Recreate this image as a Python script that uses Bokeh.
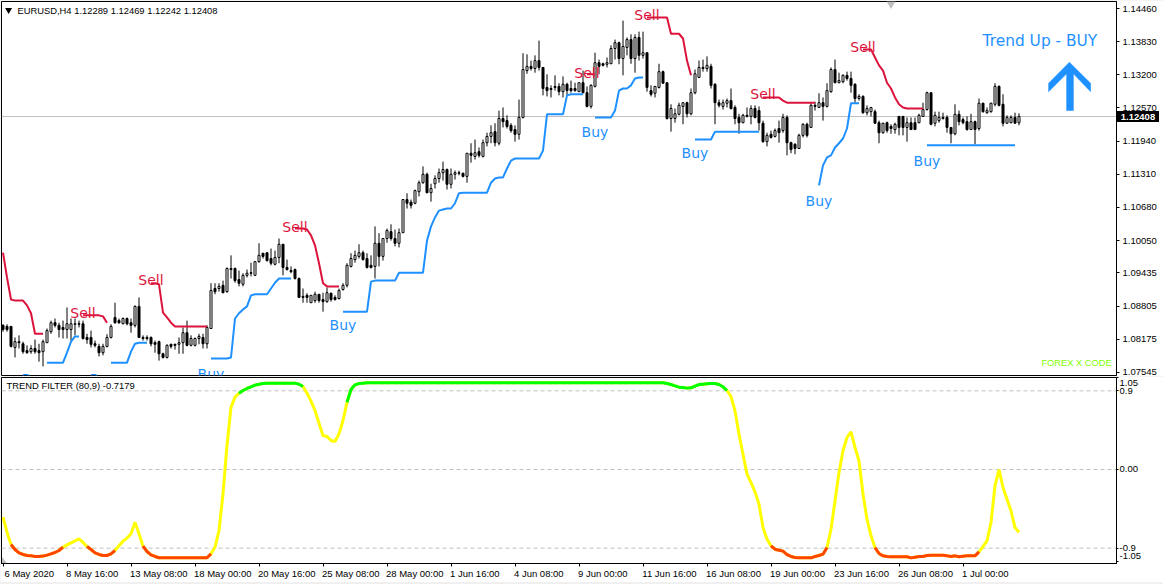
from bokeh.plotting import figure
from bokeh.layouts import column
from bokeh.models import Range1d, FixedTicker, Span, Label, ColumnDataSource, Div
from bokeh.core.properties import value
from bokeh.embed import file_html
from bokeh.resources import INLINE

high = [
1.0846,1.0846,1.0842,1.0821,1.0825,1.0813,1.0806,1.0806,1.0817,1.0809,
1.0817,1.0838,1.0853,1.0857,1.0849,1.0853,1.0878,1.0857,1.0857,1.0853,
1.0853,1.0828,1.0834,1.0815,1.0809,1.0809,1.0827,1.0846,1.0887,1.0857,
1.0859,1.0859,1.0857,1.0882,1.0897,1.0825,1.0825,1.0823,1.0815,1.0815,
1.0792,1.0808,1.0809,1.0809,1.0821,1.0840,1.0853,1.0825,1.0821,1.0828,
1.0828,1.0844,1.0924,1.0924,1.0924,1.0929,1.0954,1.0977,1.0954,1.0948,
1.0943,1.0950,1.0963,1.0965,1.1000,1.0981,1.0982,1.0990,1.0986,1.1009,
1.0998,1.0969,1.0956,1.0952,1.0935,1.0914,1.0905,1.0901,1.0908,1.0903,
1.0906,1.0916,1.0906,1.0901,1.0914,1.0924,1.0962,1.0981,1.0986,1.0998,
1.0986,1.0981,1.0977,1.1032,1.1019,1.1009,1.1028,1.1036,1.1026,1.1028,
1.1083,1.1095,1.1083,1.1102,1.1119,1.1146,1.1134,1.1113,1.1129,1.1142,
1.1155,1.1142,1.1142,1.1138,1.1138,1.1134,1.1171,1.1190,1.1197,1.1182,
1.1197,1.1210,1.1224,1.1228,1.1252,1.1258,1.1243,1.1228,1.1224,1.1273,
1.1361,1.1359,1.1347,1.1357,1.1385,1.1334,1.1321,1.1300,1.1319,1.1304,
1.1317,1.1305,1.1309,1.1305,1.1305,1.1328,1.1298,1.1302,1.1362,1.1349,
1.1343,1.1353,1.1376,1.1387,1.1383,1.1423,1.1391,1.1397,1.1397,1.1402,
1.1402,1.1362,1.1300,1.1298,1.1341,1.1328,1.1305,1.1264,1.1256,1.1267,
1.1267,1.1269,1.1294,1.1330,1.1347,1.1349,1.1355,1.1341,1.1304,1.1273,
1.1273,1.1275,1.1294,1.1262,1.1246,1.1246,1.1258,1.1262,1.1262,1.1260,
1.1233,1.1210,1.1214,1.1218,1.1233,1.1246,1.1243,1.1193,1.1190,1.1208,
1.1228,1.1229,1.1266,1.1269,1.1285,1.1277,1.1304,1.1334,1.1349,1.1324,
1.1321,1.1326,1.1326,1.1304,1.1283,1.1281,1.1262,1.1258,1.1254,1.1233,
1.1229,1.1231,1.1226,1.1229,1.1241,1.1241,1.1239,1.1239,1.1239,1.1246,
1.1267,1.1288,1.1286,1.1250,1.1250,1.1248,1.1243,1.1220,1.1264,1.1252,
1.1239,1.1241,1.1246,1.1233,1.1275,1.1267,1.1258,1.1267,1.1304,1.1300,
1.1283,1.1243,1.1243,1.1248,1.12469]

low = [
1.0832,1.0832,1.0802,1.0783,1.0800,1.0790,1.0790,1.0790,1.0790,1.0775,
1.0766,1.0811,1.0828,1.0840,1.0821,1.0819,1.0819,1.0815,1.0825,1.0840,
1.0817,1.0809,1.0802,1.0802,1.0785,1.0787,1.0802,1.0819,1.0847,1.0847,
1.0846,1.0844,1.0830,1.0840,1.0821,1.0815,1.0815,1.0804,1.0792,1.0777,
1.0781,1.0781,1.0800,1.0798,1.0790,1.0790,1.0804,1.0804,1.0804,1.0808,
1.0800,1.0800,1.0838,1.0903,1.0908,1.0905,1.0906,1.0933,1.0925,1.0918,
1.0918,1.0935,1.0937,1.0939,1.0963,1.0971,1.0965,1.0958,1.0958,1.0962,
1.0939,1.0948,1.0943,1.0931,1.0897,1.0887,1.0887,1.0887,1.0887,1.0887,
1.0870,1.0887,1.0889,1.0891,1.0893,1.0910,1.0916,1.0954,1.0963,1.0971,
1.0967,1.0952,1.0952,1.0933,1.0956,1.0967,1.1001,1.1005,1.0994,1.0992,
1.1020,1.1066,1.1066,1.1074,1.1089,1.1113,1.1095,1.1079,1.1104,1.1115,
1.1119,1.1102,1.1104,1.1121,1.1129,1.1125,1.1115,1.1153,1.1159,1.1163,
1.1163,1.1184,1.1190,1.1184,1.1186,1.1220,1.1218,1.1210,1.1193,1.1197,
1.1237,1.1322,1.1328,1.1324,1.1328,1.1281,1.1279,1.1277,1.1290,1.1281,
1.1277,1.1281,1.1286,1.1288,1.1288,1.1285,1.1258,1.1256,1.1296,1.1321,
1.1336,1.1334,1.1341,1.1349,1.1340,1.1319,1.1357,1.1341,1.1324,1.1347,
1.1351,1.1288,1.1279,1.1277,1.1294,1.1304,1.1235,1.1212,1.1229,1.1243,
1.1226,1.1239,1.1243,1.1283,1.1315,1.1326,1.1326,1.1294,1.1226,1.1258,
1.1254,1.1258,1.1254,1.1226,1.1208,1.1228,1.1239,1.1226,1.1237,1.1214,
1.1191,1.1184,1.1199,1.1201,1.1191,1.1210,1.1167,1.1171,1.1169,1.1180,
1.1201,1.1201,1.1220,1.1252,1.1258,1.1233,1.1258,1.1286,1.1304,1.1304,
1.1304,1.1309,1.1286,1.1267,1.1271,1.1246,1.1243,1.1241,1.1228,1.1190,
1.1208,1.1210,1.1208,1.1208,1.1205,1.1205,1.1193,1.1216,1.1216,1.1228,
1.1241,1.1252,1.1224,1.1222,1.1229,1.1235,1.1210,1.1190,1.1205,1.1224,
1.1226,1.1214,1.1216,1.1188,1.1214,1.1248,1.1246,1.1248,1.1260,1.1260,
1.1222,1.1228,1.1228,1.1228,1.12242]

open_ = [
1.0844,1.0842,1.0842,1.0802,1.0813,1.0809,1.0796,1.0794,1.0800,1.0796,
1.0794,1.0811,1.0832,1.0849,1.0844,1.0840,1.0836,1.0836,1.0846,1.0847,
1.0847,1.0821,1.0821,1.0809,1.0804,1.0792,1.0804,1.0821,1.0859,1.0853,
1.0847,1.0857,1.0849,1.0844,1.0880,1.0821,1.0819,1.0821,1.0811,1.0813,
1.0790,1.0783,1.0808,1.0808,1.0808,1.0811,1.0830,1.0806,1.0806,1.0819,
1.0821,1.0809,1.0838,1.0914,1.0914,1.0920,1.0908,1.0950,1.0952,1.0931,
1.0922,1.0939,1.0944,1.0939,1.0965,1.0981,1.0982,1.0971,1.0960,1.0973,
1.0998,1.0954,1.0948,1.0950,1.0933,1.0899,1.0901,1.0887,1.0891,1.0903,
1.0893,1.0889,1.0905,1.0897,1.0895,1.0912,1.0920,1.0956,1.0969,1.0975,
1.0982,1.0971,1.0958,1.0956,1.1000,1.0975,1.1009,1.1022,1.1009,1.1000,
1.1020,1.1083,1.1078,1.1076,1.1098,1.1115,1.1131,1.1096,1.1113,1.1123,
1.1134,1.1140,1.1112,1.1131,1.1134,1.1133,1.1127,1.1171,1.1165,1.1174,
1.1165,1.1191,1.1203,1.1212,1.1190,1.1237,1.1233,1.1224,1.1216,1.1207,
1.1239,1.1328,1.1336,1.1332,1.1347,1.1334,1.1296,1.1294,1.1298,1.1298,
1.1288,1.1302,1.1294,1.1294,1.1288,1.1305,1.1286,1.1260,1.1298,1.1343,
1.1341,1.1340,1.1341,1.1370,1.1381,1.1351,1.1372,1.1387,1.1351,1.1391,
1.1357,1.1362,1.1290,1.1285,1.1296,1.1326,1.1305,1.1237,1.1237,1.1245,
1.1260,1.1267,1.1246,1.1286,1.1315,1.1334,1.1332,1.1336,1.1302,1.1267,
1.1260,1.1266,1.1271,1.1258,1.1239,1.1229,1.1243,1.1241,1.1256,1.1252,
1.1228,1.1193,1.1207,1.1203,1.1218,1.1214,1.1239,1.1191,1.1188,1.1180,
1.1205,1.1226,1.1220,1.1262,1.1258,1.1267,1.1260,1.1288,1.1330,1.1305,
1.1307,1.1319,1.1313,1.1302,1.1275,1.1279,1.1248,1.1250,1.1250,1.1229,
1.1210,1.1229,1.1222,1.1216,1.1241,1.1241,1.1220,1.1229,1.1229,1.1229,
1.1241,1.1254,1.1286,1.1228,1.1233,1.1239,1.1239,1.1220,1.1208,1.1245,
1.1235,1.1231,1.1216,1.1231,1.1218,1.1266,1.1248,1.1250,1.1264,1.1298,
1.1264,1.1228,1.1229,1.1239,1.12289]

close = [
1.0836,1.0836,1.0804,1.0813,1.0811,1.0794,1.0792,1.0800,1.0794,1.0792,
1.0813,1.0834,1.0849,1.0844,1.0836,1.0836,1.0847,1.0847,1.0847,1.0846,
1.0819,1.0817,1.0808,1.0806,1.0792,1.0804,1.0821,1.0842,1.0849,1.0849,
1.0857,1.0847,1.0844,1.0880,1.0821,1.0819,1.0821,1.0809,1.0808,1.0790,
1.0783,1.0806,1.0804,1.0806,1.0811,1.0830,1.0806,1.0819,1.0819,1.0823,
1.0809,1.0840,1.0910,1.0908,1.0918,1.0906,1.0952,1.0952,1.0929,1.0924,
1.0939,1.0943,1.0943,1.0965,1.0977,1.0975,1.0967,1.0962,1.0973,1.0998,
1.0954,1.0950,1.0946,1.0933,1.0897,1.0897,1.0897,1.0901,1.0903,1.0891,
1.0889,1.0906,1.0893,1.0893,1.0910,1.0920,1.0958,1.0971,1.0977,1.0982,
1.0969,1.0954,1.0954,1.1000,1.0975,1.1009,1.1024,1.1009,1.1000,1.1020,
1.1083,1.1076,1.1072,1.1100,1.1115,1.1131,1.1096,1.1104,1.1123,1.1134,
1.1140,1.1112,1.1131,1.1134,1.1133,1.1127,1.1171,1.1167,1.1172,1.1167,
1.1191,1.1203,1.1210,1.1191,1.1237,1.1231,1.1222,1.1214,1.1207,1.1239,
1.1330,1.1336,1.1332,1.1347,1.1334,1.1294,1.1290,1.1292,1.1296,1.1288,
1.1302,1.1290,1.1290,1.1290,1.1305,1.1286,1.1260,1.1300,1.1343,1.1336,
1.1338,1.1343,1.1370,1.1381,1.1351,1.1374,1.1387,1.1351,1.1391,1.1357,
1.1362,1.1296,1.1283,1.1298,1.1326,1.1304,1.1237,1.1256,1.1246,1.1262,
1.1267,1.1246,1.1286,1.1322,1.1334,1.1332,1.1338,1.1300,1.1267,1.1262,
1.1267,1.1271,1.1256,1.1237,1.1229,1.1243,1.1241,1.1256,1.1239,1.1229,
1.1193,1.1205,1.1201,1.1214,1.1210,1.1239,1.1191,1.1178,1.1180,1.1205,
1.1226,1.1205,1.1262,1.1260,1.1267,1.1260,1.1290,1.1330,1.1305,1.1309,
1.1319,1.1313,1.1300,1.1275,1.1279,1.1248,1.1256,1.1258,1.1228,1.1210,
1.1228,1.1214,1.1218,1.1226,1.1220,1.1220,1.1229,1.1216,1.1216,1.1243,
1.1254,1.1286,1.1226,1.1243,1.1239,1.1237,1.1220,1.1208,1.1245,1.1231,
1.1229,1.1216,1.1231,1.1216,1.1266,1.1250,1.1252,1.1266,1.1298,1.1262,
1.1228,1.1239,1.1239,1.1228,1.12408]

trend_filter = (
[-0.545,-0.717,-0.858,-0.915,-0.953,-0.972,-0.984,-0.988,-0.995,-0.995,
 -0.991,-0.98,-0.965,-0.95,-0.927,-0.889,-0.862,-0.839,-0.816,-0.793,
 -0.835,-0.881,-0.915,-0.953,-0.972,-0.984,-0.984,-0.965,-0.927,-0.873,
 -0.82,-0.785,-0.736,-0.602,-0.736,-0.877,-0.938,-0.976,-0.995]
+ [-1.01]*13 +
[-0.965,-0.889,-0.698,-0.278,0.275,0.713,0.828,0.873,
 0.904,0.927,0.946,0.965,0.976,0.984,0.988]
+ [0.988]*7 +
[0.976,0.95,0.873,0.782,0.675,0.53,0.389,0.378,0.332,0.32,0.408,0.56,0.77,0.915,
 0.969,0.984,0.988]
+ [0.992]*75 +
[0.984,0.972,0.957,0.942,0.938,0.931,0.934,0.953,0.972,0.976,0.98,0.984,0.984,
 0.972,0.946,0.904,0.835,0.671,0.404,0.175,-0.053,-0.149,-0.256,-0.397,-0.664,
 -0.797,-0.873,-0.912,-0.923,-0.934,-0.973,-0.995,-1.007,-1.011]
+ [-1.011]*3 +
[-0.995,-0.984,-0.969,-0.893,-0.683,-0.359,-0.034,0.214,0.366,0.431,0.252,0.099,
 -0.282,-0.568,-0.759,-0.893,-0.961,-0.988,-0.995]
+ [-0.999]*5 +
[-1.011,-1.003,-0.995,-0.995,-0.984]
+ [-0.98]*4 +
[-0.988,-0.995,-0.988,-0.999,-0.992,-0.988,-0.988,-0.988,-0.942,-0.881,-0.816,
 -0.606,-0.187,0.0,-0.206,-0.34,-0.473,-0.664,-0.7179])

green_runs = [(59, 75), (86, 181)]
orange_runs = [(2, 15), (21, 28), (35, 52), (192, 206), (218, 244)]

sell_starts = [0, 20, 37, 73, 146, 161, 190, 215]
sell_lines = [
[1.0982,1.0935,1.0893,1.0891,1.0891,1.0891,1.0882,1.0867,1.0828,1.0828,1.0828],
[1.0863,1.0863,1.0863,1.0863,1.0863,1.0861,1.0849],
[1.0924,1.0924,1.0922,1.0868,1.0859,1.0849]+[1.0842]*9,
[1.1028,1.1028,1.1028,1.1026,1.1015,1.0996,1.0962,1.0924,1.0918,1.0918,1.0918,1.0918],
[1.1321,1.1321,1.1321],
[1.1429]*6+[1.1398,1.1398,1.1398,1.1389,1.1347,1.1319],
[1.1277]*5+[1.1271]+[1.1267]*8,
[1.1368]*3+[1.1353,1.1338,1.1328,1.1305,1.1294,1.1277,1.1264,1.1258]+[1.1256]*5,
]
buy_starts = [11, 27, 52, 85, 148, 173, 204, 231]
buy_lines = [
[1.0773]*5+[1.0792,1.0813,1.0823,1.0823],
[1.0773]*5+[1.0794,1.0809,1.0811,1.0811,1.0811],
[1.0781]*5+[1.0783,1.0857,1.0867,1.0874,1.0880,1.0901,1.0903,1.0903,1.0903,1.0903,1.0914,1.0925]+[1.0933]*4,
[1.0870]*7+[1.0927]+[1.0929]*6+[1.0944]*7+[1.1005,1.1032,1.1049,1.1062,1.1064,1.1066,1.1066,1.1076,1.1095]
 +[1.1096]*7+[1.1115,1.1123,1.1125,1.1125,1.1142,1.1157]+[1.1161]*7+[1.1176]+[1.1245]*5+[1.1281]+[1.1283]*4,
[1.1239]*5+[1.1252,1.1290,1.1294,1.1294,1.1300,1.1313,1.1315,1.1315],
[1.1197]*5+[1.1212]*12,
[1.1110,1.1148,1.1163,1.1167,1.1182,1.1190,1.1199,1.1218,1.1266,1.1266,1.1266],
[1.1186]*23,
]

sell_label_bar = [20, 37, 73, 146, 161, 190, 215]
sell_label_price = [1.0867, 1.0931, 1.1030, 1.1324, 1.1433, 1.1283, 1.1372]
buy_label_bar = [8, 25, 52, 85, 148, 173, 204, 231]
buy_label_price = [1.0743, 1.0743, 1.0751, 1.0844, 1.1212, 1.1171, 1.1081, 1.1157]

price_ticks = [1.07545, 1.08175, 1.08805, 1.09435, 1.10050, 1.10680,
               1.11310, 1.11940, 1.12570, 1.13200, 1.13830, 1.14460]
date_labels = ["6 May 2020", "8 May 16:00", "13 May 08:00", "18 May 00:00", "20 May 16:00",
               "25 May 08:00", "28 May 00:00", "1 Jun 16:00", "4 Jun 08:00", "9 Jun 00:00",
               "11 Jun 16:00", "16 Jun 08:00", "19 Jun 00:00", "23 Jun 16:00", "26 Jun 08:00",
               "1 Jul 00:00"]
date_ticks = [16 * k for k in range(len(date_labels))]
filter_levels = [0.9, 0.0, -0.9]
filter_ticks = [1.05, 0.9, 0.0, -0.9, -1.05]
# where the pane's labels sit: the two outer ones are pushed inwards, as MetaTrader does
filter_label_pos = {0.984: "1.05", 0.9: "0.9", 0.0: "0.00", -0.9: "-0.9", -0.992: "-1.05"}
last_price = 1.12408

arrow_bar = [266.6, 271.9, 271.9, 267.6, 267.6, 265.9, 265.9, 261.4, 261.4]
arrow_price = [1.1344, 1.1304, 1.1288, 1.1322, 1.1252, 1.1252, 1.1322, 1.1288, 1.1304]

SELL = "#DC143C"
BUY = "#1E90FF"
SMALL = "Liberation Sans"
CHAR_EM = {" ": .278, ":": .278, "M": .833, "J": .5, "a": .556, "y": .5, "u": .556, "n": .556, "l": .222}

def label_center(tick, label):
    width = sum(CHAR_EM.get(ch, .556) for ch in label) * 9.5
    lead = 1.5 if tick == 0 else -1
    return tick + (width / 2 + lead) / 4

X0, X1 = -0.375, 278.375
Y0, Y1 = 1.07487, 1.14593
F0, F1 = -1.0755, 1.0526
p = figure(width=1163, height=376, x_range=Range1d(X0, X1), y_range=Range1d(Y0, Y1),
           y_axis_location="right", x_axis_location=None, tools="", toolbar_location=None,
           output_backend="svg", min_border_left=1, min_border_right=47, min_border_top=1, min_border_bottom=1)
p.grid.visible = False
p.outline_line_color = "black"
ax = p.yaxis[0]
ax.ticker = FixedTicker(ticks=price_ticks)
ax.major_label_overrides = {t: f"{t:.5f}" for t in price_ticks}
ax.major_tick_in = 0
ax.major_tick_out = 3
ax.minor_tick_line_color = None
ax.major_label_standoff = 3
ax.major_label_text_font = SMALL
ax.major_label_text_font_size = "9.5px"
ax.major_label_text_color = "black"
ax.axis_line_color = "black"

p.add_layout(Span(location=last_price, dimension="width", line_color="#c0c0c0", line_width=1, level="underlay"))

bars = list(range(255))
body_top = [max(o, c) for o, c in zip(open_, close)]
body_bot = [min(o, c) for o, c in zip(open_, close)]
fill = ["white" if c >= o else "black" for o, c in zip(open_, close)]
src = ColumnDataSource(dict(x=bars, h=high, l=low, t=body_top, b=body_bot, fill=fill))
p.segment("x", "h", "x", "l", source=src, line_color="black", line_width=1)
p.vbar(x="x", top="t", bottom="b", width=0.5, source=src, fill_color="fill", line_color="black", line_width=1)

for s, vals in zip(sell_starts, sell_lines):
    p.line(list(range(s, s + len(vals))), vals, line_color=SELL, line_width=2)
for s, vals in zip(buy_starts, buy_lines):
    p.line(list(range(s, s + len(vals))), vals, line_color=BUY, line_width=2)

p.text(sell_label_bar, sell_label_price, text=["Sell"] * len(sell_label_bar), text_color=SELL,
       text_font=value("DejaVu Sans"), text_font_size="14px", text_align="center", text_baseline="middle")
p.text(buy_label_bar, buy_label_price, text=["Buy"] * len(buy_label_bar), text_color=BUY,
       text_font=value("DejaVu Sans"), text_font_size="14px", text_align="center", text_baseline="middle")
p.text([244.9], [1.1384], text=["Trend Up - BUY"], text_color=BUY,
       text_font=value("DejaVu Sans"), text_font_size="15.4px", text_align="left", text_baseline="middle")
p.patch(arrow_bar, arrow_price, fill_color=BUY, line_color=BUY, line_width=0.5)
p.scatter([222], [1.1455], marker="inverted_triangle", size=9, fill_color="#c0c0c0", line_color=None)
p.scatter([1.4], [1.1443], marker="inverted_triangle", size=7, fill_color="black", line_color=None)
p.add_layout(Label(x=3.6, y=1.1443, text="EURUSD,H4  1.12289 1.12469 1.12242 1.12408", text_font=SMALL,
                   text_font_size="9.4px", text_baseline="middle", text_color="black"))
p.add_layout(Label(x=259.6, y=1.0772, text="FOREX X CODE", text_font=SMALL, text_font_size="9.3px",
                   text_baseline="middle", text_color="#7FFF00"))

q = figure(width=1163, height=206, x_range=Range1d(X0, X1), y_range=Range1d(F0, F1),
           y_axis_location="right", tools="", toolbar_location=None, output_backend="svg",
           min_border_left=1, min_border_right=47, min_border_top=1, min_border_bottom=19)
q.grid.visible = False
q.outline_line_color = "black"
qy = q.yaxis[0]
qy.ticker = FixedTicker(ticks=list(filter_label_pos), minor_ticks=filter_ticks)
qy.major_label_overrides = filter_label_pos
qy.major_tick_line_color = None
qy.major_tick_in = 0
qy.major_tick_out = 2
qy.minor_tick_line_color = "black"
qy.minor_tick_in = 0
qy.minor_tick_out = 2
qy.major_label_standoff = 1
qy.major_label_text_font = SMALL
qy.major_label_text_font_size = "9.5px"
qy.major_label_text_color = "black"
qx = q.xaxis[0]
date_centers = [label_center(t, lab) for t, lab in zip(date_ticks, date_labels)]
qx.ticker = FixedTicker(ticks=date_centers, minor_ticks=date_ticks)
qx.major_label_overrides = dict(zip(date_centers, date_labels))
qx.major_tick_line_color = None
qx.major_tick_in = 0
qx.major_tick_out = 1
qx.minor_tick_line_color = "black"
qx.minor_tick_in = 0
qx.minor_tick_out = 3
qx.major_label_standoff = 1
qx.major_label_text_font = SMALL
qx.major_label_text_font_size = "9.5px"
qx.major_label_text_color = "black"

for lev in filter_levels:
    q.add_layout(Span(location=lev, dimension="width", line_color="#c0c0c0", line_width=1, line_dash="4 3", level="underlay"))

q.line(bars, trend_filter, line_color="#FFFF00", line_width=3)
for a, b in green_runs:
    q.line(bars[a:b + 1], trend_filter[a:b + 1], line_color="#00FF00", line_width=3)
for a, b in orange_runs:
    q.line(bars[a:b + 1], trend_filter[a:b + 1], line_color="#FF4500", line_width=3)
q.patch([-0.25, -0.25, 1.0], [-1.0, -1.07, -1.07], fill_color="#c0c0c0", line_color=None)

q.add_layout(Label(x=0.9, y=0.961, text="TREND FILTER (80,9) -0.7179", text_font=SMALL, text_font_size="9.4px",
                   text_baseline="middle", text_color="black"))

# The current-price tag sits over the axis, outside the plot frame.
tag = Div(text=f"{last_price:.5f}", width=42, height=11, margin=0,
          styles={"position": "absolute", "left": "1117px", "top": "111px", "background-color": "black",
                  "color": "white", "font-family": SMALL, "font-size": "9.5px", "font-weight": "bold",
                  "line-height": "11px", "text-align": "center"})

page = column(p, q, tag, spacing=0, width=1163, height=584,
              styles={"position": "absolute", "left": "0", "top": "0", "background-color": "#f0f0f0"})
open("out.html", "w").write(file_html(page, INLINE))
